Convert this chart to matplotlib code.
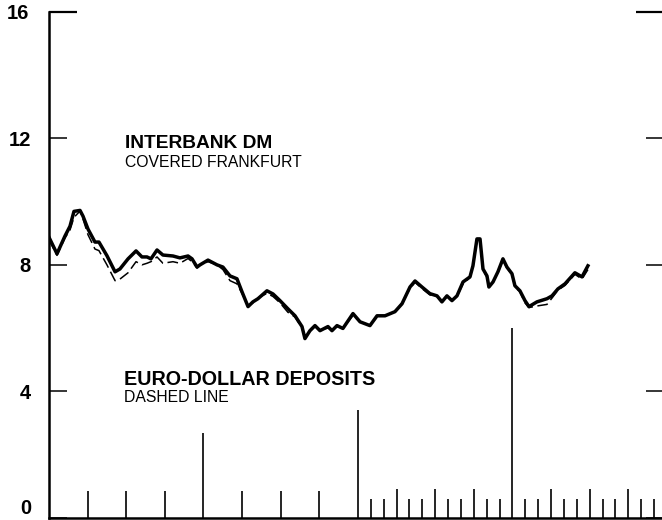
import matplotlib.pyplot as plt

plt.rcParams['font.family'] = ['Liberation Sans', 'DejaVu Sans']

# months from start of chart
months = [0.0, 0.62, 1.24, 1.63, 1.94, 2.41, 2.64, 3.03, 3.57, 3.88,
          4.50, 5.13, 5.51, 6.14, 6.76, 7.22, 7.61, 7.92, 8.39, 8.85,
          9.63, 10.17, 10.80, 11.11, 11.50, 11.73, 12.35, 13.05, 13.51, 14.06,
          14.60, 14.99, 15.46, 15.84, 16.23, 16.93, 17.40, 17.94, 18.56, 19.11,
          19.65, 19.88, 20.27, 20.66, 21.05, 21.67, 21.98, 22.37, 22.83, 23.61,
          24.16, 24.93, 25.48, 26.10, 26.87, 27.42, 28.04, 28.43, 28.97, 29.59,
          30.14, 30.52, 30.91, 31.30, 31.69, 32.16, 32.70, 32.93, 33.24, 33.48,
          33.71, 34.02, 34.17, 34.49, 34.87, 35.26, 35.57, 35.96, 36.19, 36.58,
          36.97, 37.28, 37.90, 38.68, 39.07, 39.53, 40.08, 40.85, 41.40, 41.86]

# interbank DM, covered Frankfurt (solid)
interbank = [8.87, 8.35, 8.91, 9.22, 9.69, 9.72, 9.54, 9.13, 8.72, 8.72,
             8.29, 7.78, 7.87, 8.19, 8.44, 8.25, 8.25, 8.19, 8.47, 8.31,
             8.28, 8.22, 8.28, 8.19, 7.93, 8.00, 8.15, 8.00, 7.93, 7.65,
             7.56, 7.15, 6.68, 6.83, 6.93, 7.18, 7.08, 6.87, 6.61, 6.39,
             6.05, 5.67, 5.92, 6.08, 5.92, 6.05, 5.92, 6.08, 5.99, 6.46,
             6.20, 6.08, 6.39, 6.39, 6.52, 6.77, 7.30, 7.49, 7.30, 7.09,
             7.02, 6.83, 7.02, 6.87, 7.02, 7.46, 7.62, 7.97, 8.82, 8.82,
             7.87, 7.65, 7.30, 7.46, 7.78, 8.19, 7.93, 7.72, 7.34, 7.18,
             6.87, 6.68, 6.83, 6.93, 7.02, 7.24, 7.40, 7.75, 7.62, 7.97]

# euro-dollar deposits (dashed)
eurodollar = [8.80, 8.30, 8.85, 9.10, 9.50, 9.70, 9.45, 8.95, 8.50, 8.45,
              8.00, 7.50, 7.55, 7.75, 8.10, 8.00, 8.05, 8.10, 8.25, 8.05,
              8.10, 8.05, 8.20, 8.10, 7.90, 8.00, 8.10, 8.00, 7.85, 7.50,
              7.40, 7.10, 6.70, 6.80, 6.95, 7.10, 7.00, 6.80, 6.50, 6.35,
              6.00, 5.70, 5.90, 6.05, 5.95, 6.00, 5.95, 6.05, 6.00, 6.40,
              6.20, 6.10, 6.35, 6.40, 6.50, 6.80, 7.25, 7.45, 7.25, 7.05,
              7.00, 6.85, 7.00, 6.90, 7.00, 7.40, 7.60, 7.95, 8.75, 8.75,
              7.85, 7.60, 7.35, 7.45, 7.75, 8.15, 7.90, 7.70, 7.30, 7.15,
              6.80, 6.65, 6.70, 6.75, 6.95, 7.20, 7.35, 7.70, 7.55, 7.85]

# time axis marks (month, height)
mark_months = [3, 6, 9, 12, 15, 18, 21, 24,
               25, 26, 27, 28, 29, 30, 31, 32, 33, 34, 35, 36,
               37, 38, 39, 40, 41, 42, 43, 44, 45, 46, 47]
mark_heights = [0.85, 0.85, 0.85, 2.7, 0.85, 0.85, 0.85, 3.4,
                0.6, 0.6, 0.92, 0.6, 0.6, 0.92, 0.6, 0.6, 0.92, 0.6, 0.6, 6.0,
                0.6, 0.6, 0.92, 0.6, 0.6, 0.92, 0.6, 0.6, 0.92, 0.6, 0.6]

fig = plt.figure(figsize=(6.62, 5.20), dpi=100)
ax = fig.add_axes([49 / 662, 2 / 520, 615 / 662, 506.3 / 520])

ax.plot(months, eurodollar, color='black', lw=1.1, dashes=(7, 3), zorder=2)
ax.plot(months, interbank, color='black', lw=2.5, solid_joinstyle='round', zorder=3)

ax.vlines(mark_months, 0, mark_heights, color='black', lw=1.2)

ax.set_xlim(0, 47.77)
ax.set_ylim(0, 16)

ax.spines['top'].set_visible(False)
ax.spines['right'].set_visible(False)
ax.spines['left'].set_linewidth(1.8)
ax.spines['bottom'].set_linewidth(1.8)

ax.set_xticks([])
ax.set_yticks([0, 4, 8, 12])
ax.set_yticks([16], minor=True)
ax.set_yticklabels(['0', '4', '8', '12'])
ax.set_yticklabels(['16'], minor=True)
ax.tick_params(axis='y', which='major', direction='in', length=13, width=1.1,
               right=True, pad=13, labelsize=14.5)
ax.tick_params(axis='y', which='minor', direction='in', length=20, width=1.6,
               right=True, pad=14, labelsize=14.5)
for lab in ax.get_yticklabels() + ax.get_yticklabels(minor=True):
    lab.set_fontweight('bold')
ax.get_yticklabels()[0].set_va('bottom')

ax.text(5.9, 11.69, 'INTERBANK DM', fontsize=13.8, fontweight='bold')
ax.text(5.9, 11.09, 'COVERED FRANKFURT', fontsize=11.3)
ax.text(5.8, 4.2, 'EURO-DOLLAR DEPOSITS', fontsize=14.2, fontweight='bold')
ax.text(5.8, 3.67, 'DASHED LINE', fontsize=11.3)

plt.savefig('out.png', dpi=100)
